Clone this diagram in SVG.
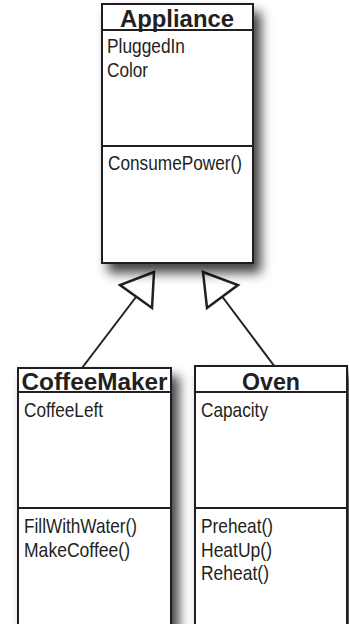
<svg xmlns="http://www.w3.org/2000/svg" width="349" height="624" viewBox="0 0 349 624">
<defs>
<filter id="sh" x="-20%" y="-20%" width="150%" height="150%">
<feDropShadow dx="7" dy="9" stdDeviation="6" flood-color="#000" flood-opacity="0.75"/>
</filter>
</defs>
<style>
.box{fill:#fff;stroke:#231f20;stroke-width:2}
.ln{stroke:#231f20;stroke-width:2;fill:none}
.tri{fill:#fff;stroke:#231f20;stroke-width:2.5;stroke-linejoin:miter}
.hd{font-family:"Liberation Sans",Arial,sans-serif;font-weight:bold;font-size:24px;fill:#231f20}
.tx{font-family:"Liberation Sans",Arial,sans-serif;font-size:21px;fill:#231f20}
</style>
<rect width="349" height="624" fill="#fff"/>
<g id="connectors">
<line class="ln" x1="136" y1="297" x2="82" y2="368"/>
<polygon class="tri" points="154,272 120,285 152,308"/>
<line class="ln" x1="222.5" y1="297" x2="275" y2="367"/>
<polygon class="tri" points="203,272 238,285 207,308"/>
</g>
<g id="appliance">
<rect class="box" x="102" y="4" width="151" height="259" filter="url(#sh)"/>
<line class="ln" x1="102" y1="30" x2="253" y2="30"/>
<line class="ln" x1="102" y1="146" x2="253" y2="146"/>
<text class="hd" x="177" y="27" text-anchor="middle" textLength="114" lengthAdjust="spacingAndGlyphs">Appliance</text>
<text class="tx" x="107" y="53" textLength="78" lengthAdjust="spacingAndGlyphs">PluggedIn</text>
<text class="tx" x="107" y="77" textLength="41" lengthAdjust="spacingAndGlyphs">Color</text>
<text class="tx" x="108" y="170" textLength="134" lengthAdjust="spacingAndGlyphs">ConsumePower()</text>
</g>
<g id="coffeemaker">
<rect class="box" x="18" y="368" width="153" height="262" filter="url(#sh)"/>
<line class="ln" x1="18" y1="392" x2="171" y2="392"/>
<line class="ln" x1="18" y1="508" x2="171" y2="508"/>
<text class="hd" x="94.5" y="390" text-anchor="middle" textLength="146" lengthAdjust="spacingAndGlyphs">CoffeeMaker</text>
<text class="tx" x="24" y="417" textLength="79" lengthAdjust="spacingAndGlyphs">CoffeeLeft</text>
<text class="tx" x="24" y="533" textLength="113" lengthAdjust="spacingAndGlyphs">FillWithWater()</text>
<text class="tx" x="24" y="557" textLength="106" lengthAdjust="spacingAndGlyphs">MakeCoffee()</text>
</g>
<g id="oven">
<rect class="box" x="195" y="366" width="152" height="264" filter="url(#sh)"/>
<line class="ln" x1="195" y1="392" x2="347" y2="392"/>
<line class="ln" x1="195" y1="508" x2="347" y2="508"/>
<text class="hd" x="271" y="390" text-anchor="middle" textLength="58" lengthAdjust="spacingAndGlyphs">Oven</text>
<text class="tx" x="201" y="417" textLength="67" lengthAdjust="spacingAndGlyphs">Capacity</text>
<text class="tx" x="201" y="533" textLength="72" lengthAdjust="spacingAndGlyphs">Preheat()</text>
<text class="tx" x="201" y="557" textLength="71" lengthAdjust="spacingAndGlyphs">HeatUp()</text>
<text class="tx" x="201" y="580" textLength="68" lengthAdjust="spacingAndGlyphs">Reheat()</text>
</g>
</svg>
